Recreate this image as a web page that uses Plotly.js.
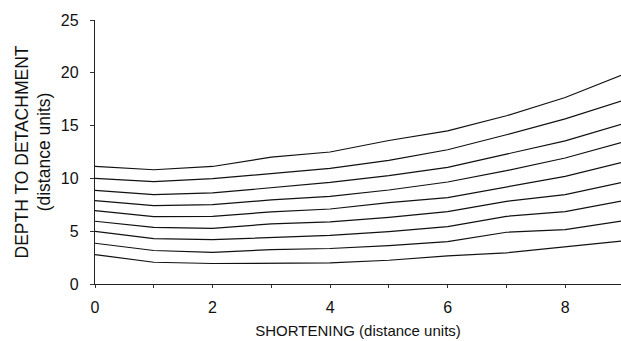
<!DOCTYPE html>
<html>
<head>
<meta charset="utf-8">
<script src="https://cdn.plot.ly/plotly-3.0.1.min.js"></script>
<style>html,body{margin:0;padding:0;background:#fff;}#chart{width:621px;height:341px;}</style>
</head>
<body>
<div id="chart"></div>
<script>
var shortening = [0, 1, 2, 3, 4, 5, 6, 7, 8, 9];
var depth1 = [11.13, 10.82, 11.13, 12.02, 12.50, 13.59, 14.50, 15.93, 17.66, 19.86];
var depth2 = [10.00, 9.69, 9.97, 10.44, 10.95, 11.70, 12.71, 14.13, 15.64, 17.40];
var depth3 = [8.87, 8.46, 8.62, 9.09, 9.62, 10.26, 11.05, 12.30, 13.56, 15.19];
var depth4 = [7.89, 7.42, 7.51, 7.96, 8.30, 8.90, 9.66, 10.73, 11.93, 13.46];
var depth5 = [6.95, 6.38, 6.41, 6.83, 7.10, 7.70, 8.18, 9.19, 10.19, 11.56];
var depth6 = [5.94, 5.37, 5.27, 5.69, 5.88, 6.31, 6.85, 7.83, 8.46, 9.65];
var depth7 = [4.99, 4.30, 4.20, 4.42, 4.61, 4.96, 5.43, 6.41, 6.85, 7.90];
var depth8 = [3.86, 3.17, 3.00, 3.26, 3.36, 3.64, 4.02, 4.90, 5.15, 6.00];
var depth9 = [2.79, 2.06, 1.94, 1.97, 2.00, 2.25, 2.67, 2.95, 3.52, 4.09];
var series = [depth1, depth2, depth3, depth4, depth5, depth6, depth7, depth8, depth9];
var xTickVals = [0, 1, 2, 3, 4, 5, 6, 7, 8, 9];
var xTickText = ['0', '', '2', '', '4', '', '6', '', '8', ''];
var yTickVals = [0, 5, 10, 15, 20, 25];

var traces = series.map(function (s) {
  return {x: shortening, y: s, type: 'scatter', mode: 'lines',
          line: {color: '#111', width: 1.2}, hoverinfo: 'skip', showlegend: false};
});

var tickFont = {family: 'Liberation Sans, Arial, sans-serif', size: 16, color: '#111'};
var xTitleFont = {family: 'Liberation Sans, Arial, sans-serif', size: 15, color: '#111'};
var yTitleFont = {family: 'Liberation Sans, Arial, sans-serif', size: 17.5, color: '#111'};
var layout = {
  width: 621, height: 341,
  margin: {l: 95, r: 0, t: 20, b: 56.5},
  paper_bgcolor: '#fff', plot_bgcolor: '#fff',
  font: tickFont,
  showlegend: false,
  xaxis: {
    range: [0, 8.95], tickvals: xTickVals, ticktext: xTickText,
    ticks: 'outside', ticklen: 3, tickcolor: '#333', tickwidth: 1,
    showline: true, linecolor: '#222', linewidth: 1.2,
    showgrid: false, zeroline: false, ticklabelstandoff: 6,
    tickfont: tickFont,
    title: {text: 'SHORTENING (distance units)', font: xTitleFont, standoff: 10}
  },
  yaxis: {
    range: [0, 25], tickvals: yTickVals,
    ticks: 'outside', ticklen: 4, tickcolor: '#333', tickwidth: 1,
    showline: true, linecolor: '#222', linewidth: 1.2,
    showgrid: false, zeroline: false, ticklabelstandoff: 8,
    tickfont: tickFont,
    title: {text: 'DEPTH TO DETACHMENT<br>(distance units)', font: yTitleFont, standoff: 5}
  }
};
Plotly.newPlot('chart', traces, layout, {displayModeBar: false, staticPlot: true});
</script>
</body>
</html>
